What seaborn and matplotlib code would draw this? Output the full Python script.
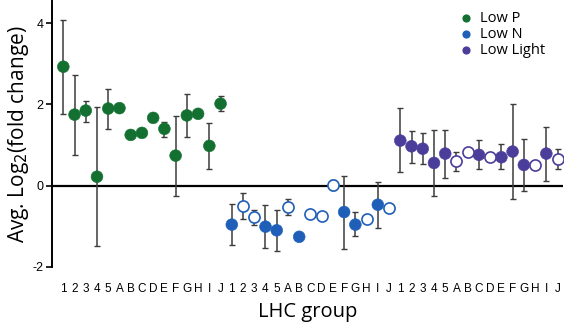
import matplotlib
matplotlib.use("Agg")
import matplotlib.pyplot as plt
import numpy as np
import pandas as pd
import seaborn as sns

sns.set_style("ticks")
plt.rcParams["font.family"] = ["Open Sans", "DejaVu Sans"]
plt.rcParams["text.color"] = "black"
plt.rcParams["axes.labelcolor"] = "black"
plt.rcParams["xtick.color"] = "black"
plt.rcParams["ytick.color"] = "black"
plt.rcParams["axes.edgecolor"] = "black"

GROUPS = ["1", "2", "3", "4", "5", "A", "B", "C", "D", "E", "F", "G", "H", "I", "J"]
CONDITIONS = ["Low P", "Low N", "Low Light"]
COLORS = {"Low P": "#137030", "Low N": "#1f5fb8", "Low Light": "#4b3d9a"}

# mean log2 fold change per LHC group
lowp_mean = [2.93, 1.75, 1.85, 0.22, 1.90, 1.91, 1.25, 1.30, 1.67, 1.40, 0.74, 1.73, 1.77, 0.98, 2.02]
lown_mean = [-0.96, -0.50, -0.78, -1.01, -1.10, -0.52, -1.26, -0.70, -0.75, 0.01, -0.65, -0.96, -0.83, -0.47, -0.55]
lowl_mean = [1.11, 0.97, 0.91, 0.56, 0.79, 0.60, 0.83, 0.76, 0.70, 0.70, 0.84, 0.51, 0.52, 0.79, 0.65]

# error bar ends (nan = no bar)
nan = np.nan
lowp_hi = [4.09, 2.73, 2.09, 1.93, 2.38, nan, nan, nan, nan, 1.58, 1.72, 2.26, nan, 1.55, 2.22]
lowp_lo = [1.77, 0.76, 1.58, -1.49, 1.40, nan, nan, nan, nan, 1.21, -0.26, 1.21, nan, 0.41, 1.83]
lown_hi = [-0.44, -0.17, -0.59, -0.48, -0.60, -0.32, nan, nan, nan, 0.14, 0.24, -0.66, nan, 0.08, nan]
lown_lo = [-1.46, -0.81, -0.98, -1.53, -1.62, -0.72, nan, nan, nan, -0.10, -1.55, -1.24, nan, -1.04, nan]
lowl_hi = [1.91, 1.35, 1.30, 1.37, 1.38, 0.82, nan, 1.12, nan, 1.02, 2.02, 1.16, nan, 1.44, 0.91]
lowl_lo = [0.33, 0.57, 0.54, -0.25, 0.19, 0.37, nan, 0.41, nan, 0.40, -0.34, -0.14, nan, 0.11, 0.41]

# open circles for these groups
lown_open = [False, True, True, False, False, True, False, True, True, True, False, False, True, False, True]
lowl_open = [False, False, False, False, False, True, True, False, True, False, False, False, True, False, True]
lowp_open = [False] * 15

rows = []
for cond, means, his, los, opens in [
    ("Low P", lowp_mean, lowp_hi, lowp_lo, lowp_open),
    ("Low N", lown_mean, lown_hi, lown_lo, lown_open),
    ("Low Light", lowl_mean, lowl_hi, lowl_lo, lowl_open),
]:
    for g, m, h, l, o in zip(GROUPS, means, his, los, opens):
        rows.append({"condition": cond, "group": g, "mean": m, "hi": h, "lo": l, "open": o})
df = pd.DataFrame(rows)
df["pos"] = np.arange(len(df))

fig = plt.figure(figsize=(5.66, 3.27), dpi=100)
ax = fig.add_axes([0.092, 0.184, 0.903, 0.813])

# error bars behind markers
eb = df.dropna(subset=["hi"])
ax.errorbar(eb["pos"], eb["mean"],
            yerr=[eb["mean"] - eb["lo"], eb["hi"] - eb["mean"]],
            fmt="none", ecolor="#3c3c3c", elinewidth=1.1, capsize=2.5, capthick=1.0, zorder=2)

ax.axhline(0, color="black", lw=1.6, zorder=1)

filled = df[~df["open"]]
sns.scatterplot(data=filled, x="pos", y="mean", hue="condition", hue_order=CONDITIONS,
                palette=COLORS, s=72, edgecolor=None, linewidth=0.4, legend=False, ax=ax, zorder=3)
for cond in CONDITIONS:
    sub = df[df["open"] & (df["condition"] == cond)]
    if len(sub):
        ax.scatter(sub["pos"], sub["mean"], s=64, facecolor="white",
                   edgecolor=COLORS[cond], linewidth=1.2, zorder=3)

# legend
for cond in CONDITIONS:
    ax.scatter([], [], s=24, color=COLORS[cond], label=cond)
ax.legend(loc="upper right", bbox_to_anchor=(0.985, 1.0), frameon=False, fontsize=10.5,
          handletextpad=0.0, labelspacing=0.05, borderaxespad=0.3)

ax.set_xlim(-1, 44.5)
ax.set_ylim(-2, 4.55)
ax.set_yticks([-2, 0, 2, 4])
ax.set_yticklabels(["-2", "0", "2", "4"], family="Liberation Sans", fontsize=9)
ax.set_xticks(df["pos"])
ax.set_xticklabels(df["group"], family="Liberation Sans", fontsize=8.5)
ax.tick_params(axis="x", length=0, pad=12)
ax.tick_params(axis="y", length=4, width=1.2, direction="out", pad=2)
ax.spines["top"].set_visible(False)
ax.spines["right"].set_visible(False)
ax.spines["bottom"].set_visible(False)
ax.spines["left"].set_linewidth(1.4)
ax.spines["left"].set_bounds(-2, 4.55)

ax.set_xlabel("LHC group", fontsize=14.5, labelpad=5)
ax.set_ylabel("Avg. Log$_2$(fold change)", fontsize=15, labelpad=1)
ax.grid(False)

fig.savefig("out.png", dpi=100)
